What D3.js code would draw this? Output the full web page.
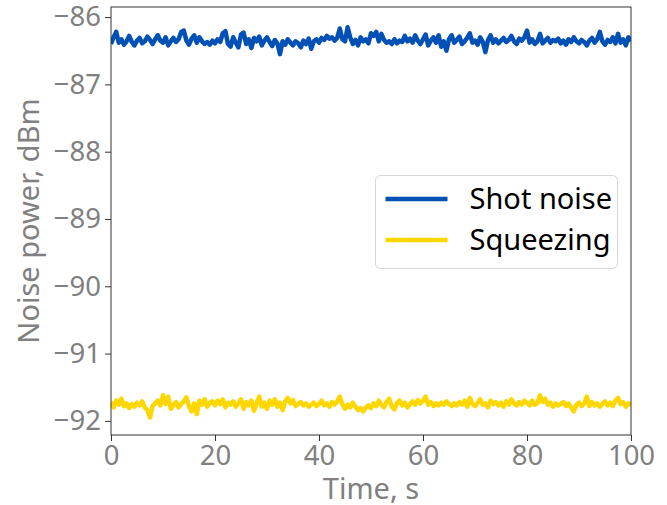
<!DOCTYPE html>
<html>
<head>
<meta charset="utf-8">
<script src="https://cdn.jsdelivr.net/npm/d3@7"></script>
<style>
  body { margin: 0; background: #fff; }
  text { font-family: "Noto Sans", "Open Sans", sans-serif; }
</style>
</head>
<body>
<svg width="667" height="505"></svg>
<script>
// time grid, one reading every 0.5 s
const time = d3.range(0, 100.5, 0.5)

const shotNoise = [
  -86.40,-86.30,-86.22,-86.38,-86.33,-86.41,-86.36,-86.28,-86.37,-86.42,-86.35,-86.31,-86.39,-86.36,-86.29,-86.34,-86.40,-86.33,-86.27,-86.35,
  -86.38,-86.30,-86.42,-86.36,-86.31,-86.37,-86.33,-86.22,-86.20,-86.35,-86.41,-86.32,-86.27,-86.38,-86.30,-86.36,-86.40,-86.37,-86.41,-86.35,
  -86.39,-86.33,-86.37,-86.24,-86.21,-86.40,-86.44,-86.30,-86.38,-86.45,-86.26,-86.23,-86.40,-86.33,-86.46,-86.31,-86.36,-86.29,-86.42,-86.35,
  -86.30,-86.37,-86.43,-86.34,-86.39,-86.55,-86.36,-86.41,-86.33,-86.38,-86.42,-86.36,-86.39,-86.45,-86.35,-86.40,-86.32,-86.47,-86.36,-86.33,
  -86.38,-86.31,-86.34,-86.28,-86.32,-86.30,-86.35,-86.31,-86.17,-86.33,-86.36,-86.15,-86.30,-86.40,-86.34,-86.42,-86.30,-86.36,-86.33,-86.39,
  -86.24,-86.28,-86.22,-86.36,-86.25,-86.34,-86.38,-86.36,-86.40,-86.33,-86.39,-86.35,-86.37,-86.28,-86.36,-86.32,-86.38,-86.27,-86.35,-86.40,
  -86.33,-86.26,-86.42,-86.35,-86.30,-86.38,-86.27,-86.44,-86.36,-86.50,-86.33,-86.27,-86.38,-86.34,-86.29,-86.40,-86.36,-86.31,-86.24,-86.38,
  -86.35,-86.41,-86.30,-86.37,-86.52,-86.34,-86.27,-86.38,-86.33,-86.39,-86.35,-86.31,-86.37,-86.34,-86.28,-86.36,-86.40,-86.32,-86.35,-86.30,
  -86.20,-86.38,-86.33,-86.40,-86.36,-86.25,-86.39,-86.35,-86.31,-86.38,-86.34,-86.36,-86.32,-86.39,-86.35,-86.41,-86.33,-86.37,-86.30,-86.36,
  -86.39,-86.34,-86.37,-86.42,-86.35,-86.31,-86.38,-86.33,-86.22,-86.36,-86.41,-86.34,-86.37,-86.30,-86.39,-86.25,-86.38,-86.33,-86.42,-86.30,-86.36
]

const squeezing = [
  -91.72,-91.80,-91.70,-91.76,-91.67,-91.78,-91.74,-91.81,-91.75,-91.79,-91.73,-91.77,-91.71,-91.80,-91.84,-91.95,-91.78,-91.74,-91.70,-91.77,
  -91.62,-91.75,-91.64,-91.82,-91.77,-91.72,-91.80,-91.75,-91.71,-91.65,-91.78,-91.86,-91.74,-91.90,-91.70,-91.76,-91.68,-91.79,-91.73,-91.71,
  -91.77,-91.70,-91.75,-91.68,-91.80,-91.73,-91.76,-91.71,-91.79,-91.74,-91.68,-91.82,-91.72,-91.77,-91.70,-91.85,-91.74,-91.64,-91.79,-91.73,
  -91.82,-91.70,-91.76,-91.68,-91.79,-91.73,-91.84,-91.71,-91.66,-91.74,-91.69,-91.78,-91.75,-91.72,-91.77,-91.74,-91.79,-91.76,-91.73,-91.78,
  -91.75,-91.70,-91.77,-91.74,-91.79,-91.72,-91.76,-91.71,-91.64,-91.75,-91.82,-91.76,-91.80,-91.73,-91.79,-91.84,-91.81,-91.86,-91.80,-91.77,
  -91.81,-91.74,-91.78,-91.70,-91.76,-91.80,-91.72,-91.67,-91.79,-91.83,-91.74,-91.70,-91.77,-91.73,-91.80,-91.75,-91.71,-91.76,-91.69,-91.74,
  -91.70,-91.64,-91.76,-91.72,-91.78,-91.74,-91.77,-91.73,-91.76,-91.71,-91.75,-91.78,-91.74,-91.77,-91.72,-91.76,-91.70,-91.79,-91.66,-91.75,
  -91.78,-91.73,-91.68,-91.76,-91.74,-91.80,-91.70,-91.75,-91.72,-91.77,-91.73,-91.79,-91.71,-91.76,-91.68,-91.74,-91.77,-91.72,-91.76,-91.70,
  -91.73,-91.77,-91.70,-91.76,-91.74,-91.62,-91.72,-91.67,-91.76,-91.73,-91.79,-91.74,-91.77,-91.75,-91.72,-91.78,-91.74,-91.80,-91.86,-91.76,
  -91.73,-91.78,-91.74,-91.64,-91.78,-91.72,-91.77,-91.74,-91.79,-91.75,-91.71,-91.77,-91.73,-91.78,-91.70,-91.66,-91.75,-91.72,-91.79,-91.74,-91.77
]

const seriesNames = ["Shot noise", "Squeezing"]
const seriesColors = ["#0050b5", "#ffd700"]
const xTicks = [0, 20, 40, 60, 80, 100]
const yTicks = [-92, -91, -90, -89, -88, -87, -86]

const mLeft = 111, mTop = 7, mRight = 631, mBottom = 435
const gray = "#808080"

const svg = d3.select("svg")
const x = d3.scaleLinear().domain([0, 100]).range([mLeft, mRight])
const y = d3.scaleLinear().domain([-92.21, -85.85]).range([mBottom, mTop])

const fmt = d => d3.format("d")(d).replace("-", "\u2212")

const xAxis = svg.append("g")
  .attr("transform", `translate(0,${mBottom})`)
  .call(d3.axisBottom(x).tickValues(xTicks).tickSize(6).tickPadding(4).tickFormat(fmt))
const yAxis = svg.append("g")
  .attr("transform", `translate(${mLeft},0)`)
  .call(d3.axisLeft(y).tickValues(yTicks).tickSize(6).tickPadding(4).tickFormat(fmt))

;[xAxis, yAxis].forEach(g => {
  g.select(".domain").remove()
  g.selectAll("line").attr("stroke", "#333").attr("stroke-width", 1)
  g.selectAll("text").attr("fill", gray).attr("font-size", 27.5)
    .style("font-family", "'Noto Sans', 'Open Sans', sans-serif")
})

// data lines
const line = d3.line().x((d, i) => x(time[i])).y(d => y(d))
svg.append("clipPath").attr("id", "clip")
  .append("rect").attr("x", mLeft).attr("y", mTop).attr("width", mRight - mLeft).attr("height", mBottom - mTop)

;[shotNoise, squeezing].forEach((s, k) => {
  svg.append("path").datum(s)
    .attr("clip-path", "url(#clip)")
    .attr("d", line)
    .attr("fill", "none")
    .attr("stroke", seriesColors[k])
    .attr("stroke-width", 4.5)
    .attr("stroke-linejoin", "round")
})

// frame
svg.append("rect")
  .attr("x", mLeft).attr("y", mTop)
  .attr("width", mRight - mLeft).attr("height", mBottom - mTop)
  .attr("fill", "none").attr("stroke", "#333").attr("stroke-width", 1)

// axis titles
svg.append("text")
  .attr("x", (mLeft + mRight) / 2).attr("y", 499)
  .attr("text-anchor", "middle").attr("fill", gray).attr("font-size", 29)
  .text("Time, s")
svg.append("text")
  .attr("transform", `translate(39,${(mTop + mBottom) / 2}) rotate(-90)`)
  .attr("text-anchor", "middle").attr("fill", gray).attr("font-size", 29)
  .text("Noise power, dBm")

// legend
const lg = svg.append("g").attr("transform", "translate(375.5,175.5)")
lg.append("rect")
  .attr("width", 242).attr("height", 93).attr("rx", 5)
  .attr("fill", "#fff").attr("stroke", "#d6d6d6").attr("stroke-width", 1)
seriesNames.forEach((n, k) => {
  const yy = 23.5 + k * 41
  lg.append("line").attr("x1", 10).attr("x2", 72).attr("y1", yy).attr("y2", yy)
    .attr("stroke", seriesColors[k]).attr("stroke-width", 4.5)
  lg.append("text").attr("x", 94).attr("y", yy + 10)
    .attr("fill", "#000").attr("font-size", 29).text(n)
})
</script>
</body>
</html>
